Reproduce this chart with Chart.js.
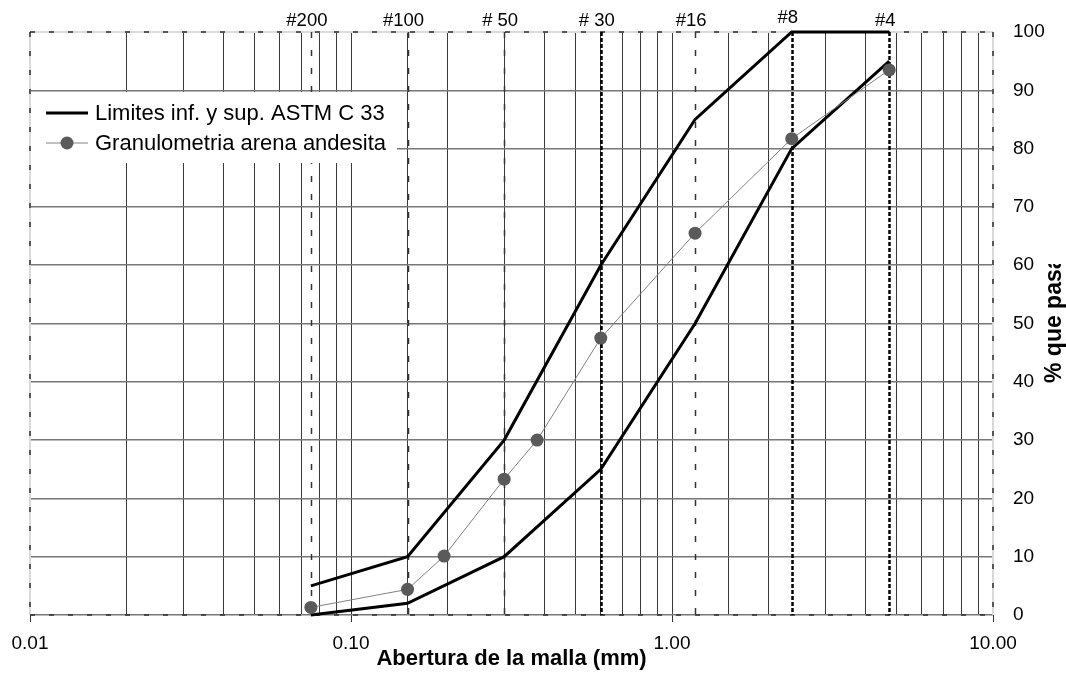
<!DOCTYPE html>
<html>
<head>
<meta charset="utf-8">
<script src="https://cdn.jsdelivr.net/npm/chart.js@4.4.1/dist/chart.umd.min.js"></script>
<style>
  html, body { margin: 0; padding: 0; background: #fff; }
  #wrap { width: 1066px; height: 675px; position: relative; }
</style>
</head>
<body>
<div id="wrap"><canvas id="c" width="1066" height="675"></canvas></div>
<script>
// Sieve openings (mm) and their designations
const sieveSizes = [0.075, 0.15, 0.3, 0.6, 1.18, 2.36, 4.75];
const sieveNames = ['#200', '#100', '# 50', '# 30', '#16', '#8', '#4'];

// ASTM C 33 grading envelope for fine aggregate (% passing)
const upperLimit = [5, 10, 30, 60, 85, 100, 100];
const lowerLimit = [0, 2, 10, 25, 50, 80, 95];

// Measured grading of the andesite sand
const sampleSizes = [0.075, 0.15, 0.195, 0.3, 0.38, 0.6, 1.18, 2.36, 4.75];
const samplePassing = [1.3, 4.4, 10.1, 23.3, 30.0, 47.5, 65.5, 81.7, 93.5];

// Axis settings
const xMin = 0.01, xMax = 10;
const yMin = 0, yMax = 100, yStep = 10;

const labelLimits = 'Limites inf. y sup. ASTM C 33';
const labelSample = 'Granulometria arena andesita';
const xTitle = 'Abertura de la malla (mm)';
const yTitle = '% que pasa';

const FONT = '"Liberation Sans", Arial, Helvetica, sans-serif';
const toPoints = (xs, ys) => xs.map((v, i) => ({ x: v, y: ys[i] }));
const isDecade = v => Math.abs(Math.log10(v) - Math.round(Math.log10(v))) < 1e-6;
const CLEAR = 'rgba(0,0,0,0)';

function seg(ctx, x1, y1, x2, y2) {
  ctx.beginPath();
  ctx.moveTo(x1, y1);
  ctx.lineTo(x2, y2);
  ctx.stroke();
}

// Frame, sieve reference lines and the legend panel (under the data)
const decorPlugin = {
  id: 'decor',
  beforeDatasetsDraw(chart) {
    const { ctx, chartArea: a, scales: { x } } = chart;
    ctx.save();

    // plot frame: pale solid stroke with dark dashes over it
    ctx.setLineDash([]);
    ctx.strokeStyle = '#dadada';
    ctx.lineWidth = 2;
    seg(ctx, a.left, a.top, a.right, a.top);
    seg(ctx, a.left, a.top, a.left, a.bottom);
    seg(ctx, a.right, a.top, a.right, a.bottom);
    ctx.strokeStyle = '#2e2e2e';
    ctx.lineWidth = 1.5;
    ctx.setLineDash([5, 14]);
    seg(ctx, a.left, a.top, a.right, a.top);
    seg(ctx, a.left, a.top, a.left, a.bottom);
    seg(ctx, a.right, a.top, a.right, a.bottom);
    seg(ctx, a.left, a.bottom, a.right, a.bottom);

    // vertical reference line at every sieve opening
    const heavy = new Set([0.6, 2.36, 4.75]);
    sieveSizes.forEach(s => {
      const px = Math.round(x.getPixelForValue(s)) + 0.5;
      if (heavy.has(s)) {
        ctx.strokeStyle = '#000';
        ctx.lineWidth = 2.5;
        ctx.setLineDash([4, 2]);
      } else {
        ctx.strokeStyle = '#333';
        ctx.lineWidth = 1.5;
        ctx.setLineDash([6, 12]);
      }
      seg(ctx, px, a.top, px, a.bottom);
    });
    ctx.setLineDash([]);

    // legend panel
    const lx = a.left + 1, ly = a.top + 60;
    ctx.fillStyle = '#fff';
    ctx.fillRect(lx, ly, 366, 71);

    const ds = chart.data.datasets;
    const rows = [
      { d: ds[1], y: ly + 21 },
      { d: ds[0], y: ly + 51 }
    ];
    ctx.font = '22px ' + FONT;
    ctx.textBaseline = 'middle';
    ctx.textAlign = 'left';
    rows.forEach(r => {
      ctx.strokeStyle = r.d.borderColor;
      ctx.lineWidth = r.d.borderWidth;
      seg(ctx, lx + 15, r.y, lx + 57, r.y);
      if (r.d.pointRadius > 0) {
        ctx.fillStyle = r.d.pointBackgroundColor;
        ctx.beginPath();
        ctx.arc(lx + 36, r.y, r.d.pointRadius, 0, Math.PI * 2);
        ctx.fill();
      }
      ctx.fillStyle = '#000';
      ctx.fillText(r.d.label, lx + 64, r.y + 1);
    });
    ctx.restore();
  },

  // sieve names along the top and the vertical axis title
  afterDraw(chart) {
    const { ctx, chartArea: a, scales: { x } } = chart;
    ctx.save();
    ctx.fillStyle = '#000';
    ctx.font = '18.5px ' + FONT;
    ctx.textAlign = 'center';
    ctx.textBaseline = 'alphabetic';
    sieveNames.forEach((name, i) => {
      const px = x.getPixelForValue(sieveSizes[i]) - 4;
      const base = name === '#8' ? 23 : 26;
      ctx.fillText(name, px, base);
    });

    // axis title on the right, reading upwards, trimmed to its box
    ctx.beginPath();
    ctx.rect(a.right + 40, 264, 1066 - a.right - 40, a.bottom - 264);
    ctx.clip();
    ctx.translate(a.right + 62, 383);
    ctx.rotate(-Math.PI / 2);
    ctx.font = 'bold 23px ' + FONT;
    ctx.textAlign = 'left';
    ctx.textBaseline = 'middle';
    ctx.fillText(yTitle, 0, 0);
    ctx.restore();
  }
};

new Chart(document.getElementById('c'), {
  type: 'line',
  data: {
    datasets: [
      {
        label: labelSample,
        data: toPoints(sampleSizes, samplePassing),
        borderColor: '#808080',
        borderWidth: 1,
        pointRadius: 6.5,
        pointBackgroundColor: '#5a5a5a',
        pointBorderColor: '#5a5a5a',
        pointBorderWidth: 0,
        pointHoverRadius: 6.5,
        tension: 0,
        order: 0,
        clip: 8
      },
      {
        label: labelLimits,
        data: toPoints(sieveSizes, upperLimit),
        borderColor: '#000',
        borderWidth: 3,
        pointRadius: 0,
        tension: 0,
        order: 1,
        clip: 8
      },
      {
        label: labelLimits,
        data: toPoints(sieveSizes, lowerLimit),
        borderColor: '#000',
        borderWidth: 3,
        pointRadius: 0,
        tension: 0,
        order: 1,
        clip: 8
      }
    ]
  },
  options: {
    responsive: false,
    animation: false,
    devicePixelRatio: 1,
    layout: { padding: { left: 30, top: 32, right: 0, bottom: 0 } },
    plugins: {
      legend: { display: false },
      tooltip: { enabled: false }
    },
    scales: {
      x: {
        type: 'logarithmic',
        position: 'bottom',
        min: xMin,
        max: xMax,
        afterFit: s => { s.height = 60; },
        border: { display: false },
        grid: {
          drawTicks: true,
          tickLength: 7,
          lineWidth: 1,
          color: c => {
            const v = c.tick && c.tick.value;
            if (v === undefined || Math.abs(v - xMin) < 1e-9 || Math.abs(v - xMax) < 1e-9) return CLEAR;
            return '#3a3a3a';
          },
          tickColor: c => (c.tick && isDecade(c.tick.value)) ? '#333' : CLEAR
        },
        ticks: {
          autoSkip: false,
          maxRotation: 0,
          padding: 10,
          color: '#000',
          font: { family: FONT, size: 19 },
          callback: v => isDecade(v) ? Number(v).toFixed(2) : ''
        },
        title: {
          display: true,
          text: xTitle,
          color: '#000',
          font: { family: FONT, size: 22, weight: 'bold' },
          padding: { top: 0, bottom: 3 }
        }
      },
      y: {
        type: 'linear',
        position: 'right',
        min: yMin,
        max: yMax,
        afterFit: s => { s.width = 73; },
        border: { display: false },
        grid: {
          drawTicks: false,
          lineWidth: 1.5,
          color: c => (c.tick && c.tick.value === yMax) ? CLEAR : '#777'
        },
        ticks: {
          stepSize: yStep,
          padding: 20,
          crossAlign: 'near',
          color: '#000',
          font: { family: FONT, size: 19 }
        }
      }
    }
  },
  plugins: [decorPlugin]
});
</script>
</body>
</html>
